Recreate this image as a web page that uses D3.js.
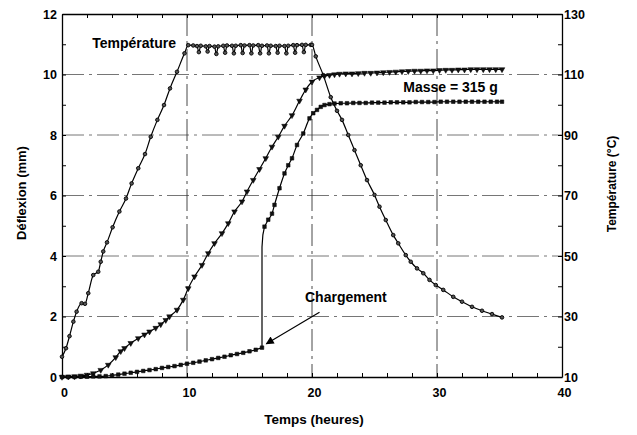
<!DOCTYPE html>
<html><head><meta charset="utf-8">
<script src="https://cdn.jsdelivr.net/npm/d3@7"></script>
<style>
body{margin:0;background:#fff}
svg{display:block}
text{font-family:"Liberation Sans",Arial,Helvetica,sans-serif;font-weight:bold;fill:#000}
</style>
</head><body>
<svg id="c" width="637" height="435"></svg>
<script>
// ---- Data (hours, value) ----
// Temperature (°C, right axis)
const temperature = [
[0,16.7],[0.32,19.5],[0.6,23.5],[0.91,28.3],[1.17,31.6],[1.57,34.4],[1.84,34.2],[2.1,37.7],[2.5,43.7],[2.9,44.8],[3.1,48.1],[3.3,51.5],[3.6,54.5],[4.05,59.5],[4.59,64.7],[5.12,69],[5.57,74],[6.1,79],[6.64,83.7],[7.1,89.4],[7.63,95],[8.16,99.9],[8.64,105.4],[9.2,110.9],[9.8,117],[10.1,119.7],
[10.5,119.6],[10.8,119.4],[10.95,117.4],[11.1,119.5],[11.5,119.3],[11.65,117.6],[11.8,119.4],[12.2,119.2],[12.35,116.8],[12.5,119.3],[12.9,119.5],[13.05,117.2],[13.2,119.6],[13.6,119.5],[13.75,117.0],[13.9,119.5],[14.3,119.7],[14.45,117.1],[14.6,119.6],[15.0,119.7],[15.15,117.0],[15.3,119.6],[15.7,119.7],[15.85,117.0],[16.0,119.5],[16.4,119.6],[16.55,117.0],[16.7,119.5],[17.1,119.4],[17.25,117.2],[17.4,119.5],[17.8,119.4],[17.95,117.0],[18.1,119.5],[18.5,119.7],[18.65,117.2],[18.8,119.7],[19.2,119.8],[19.35,117.4],[19.5,119.8],[19.9,119.8],
[20.0,119.8],[20.3,116],[20.9,109.8],[21.5,102.5],[22.0,98],[22.4,95],[22.9,90],[23.4,85],[23.9,80],[24.4,75.1],[25.0,70.2],[25.4,66.3],[25.9,61.9],[26.5,56.9],[26.9,54.2],[27.5,50.3],[27.9,48.1],[28.4,45.9],[28.9,44.3],[29.4,42.1],[29.9,40.4],[30.5,38.8],[31.3,36.5],[32.0,34.9],[32.8,33.2],[33.6,31.9],[34.4,30.8],[35.2,29.7]
];
// Deflection without load (mm, left axis) - inverted triangles
const deflexion = [
[0,0],[0.5,0.01],[1,0.02],[1.5,0.04],[2,0.07],[2.5,0.12],[3.1,0.23],[3.7,0.4],[4.3,0.65],[4.7,0.85],[5.0,0.95],[5.5,1.12],[6.1,1.28],[6.6,1.4],[7.0,1.5],[7.5,1.62],[7.9,1.74],[8.3,1.88],[8.6,2.0],[9.2,2.22],[9.7,2.55],[10.1,2.93],[10.6,3.32],[11.2,3.7],[11.7,4.09],[12.2,4.42],[12.8,4.75],[13.3,5.08],[13.8,5.47],[14.4,5.8],[14.8,6.13],[15.3,6.51],[15.8,6.87],[16.3,7.23],[16.8,7.61],[17.3,7.94],[17.8,8.3],[18.4,8.65],[19.0,9.13],[19.5,9.5],[20.0,9.76],[20.6,9.9],[21.0,9.95],[21.4,9.98],[21.8,10.0],[22.2,10.02],[22.7,10.03],[23.2,10.03],[23.7,10.04],[24.2,10.05],[24.7,10.05],[25.2,10.06],[25.7,10.07],[26.2,10.08],[26.7,10.09],[27.2,10.1],[27.7,10.11],[28.2,10.12],[28.7,10.12],[29.2,10.13],[29.7,10.13],[30.2,10.14],[30.7,10.15],[31.2,10.15],[31.7,10.16],[32.2,10.16],[32.7,10.17],[33.2,10.17],[33.7,10.17],[34.2,10.17],[34.7,10.17],[35.2,10.17]
];
// Deflection with load "Chargement" (mm, left axis) - squares
const chargementBefore = [
[0,0],[0.5,0],[1,0],[1.5,0.01],[2,0.01],[2.5,0.02],[3,0.02],[3.5,0.03],[4,0.05],[4.5,0.08],[5,0.11],[5.5,0.14],[6,0.17],[6.5,0.2],[7,0.23],[7.5,0.26],[8,0.3],[8.5,0.33],[9,0.36],[9.5,0.4],[10,0.44],[10.5,0.47],[11,0.51],[11.5,0.55],[12,0.59],[12.5,0.63],[13,0.67],[13.5,0.72],[14,0.76],[14.5,0.8],[15,0.85],[15.5,0.9],[16,0.97]
];
// instantaneous jump when the 315 g load is applied (line only)
const chargementJump = [[16,0.97],[16,4.3],[16.07,4.7],[16.2,4.97]];
const chargementAfter = [
[16.2,4.97],[16.5,5.2],[16.8,5.4],[17.0,5.69],[17.4,6.24],[17.8,6.73],[18.1,7.0],[18.4,7.23],[18.8,7.67],[19.3,8.05],[19.8,8.55],[20.1,8.72],[20.4,8.83],[20.7,8.93],[21.0,8.99],[21.4,9.02],[21.8,9.04],[22.3,9.05],[22.8,9.05],[23.3,9.06],[23.8,9.06],[24.3,9.06],[24.8,9.07],[25.3,9.07],[25.8,9.07],[26.3,9.08],[26.8,9.08],[27.3,9.08],[27.8,9.08],[28.3,9.09],[28.8,9.09],[29.3,9.09],[29.8,9.09],[30.3,9.1],[30.8,9.1],[31.3,9.1],[31.8,9.1],[32.3,9.1],[32.8,9.1],[33.3,9.1],[33.8,9.1],[34.3,9.1],[34.8,9.1],[35.2,9.1]
];
const xTickLabels = [0,10,20,30,40];
const leftTickLabels = [0,2,4,6,8,10,12];
const rightTickLabels = [10,30,50,70,90,110,130];
const xGrid = [10,20,30];
const yGrid = [2,4,6,8,10];
const labelTemp = {text:"Température", x:2.42, y:10.89};
const labelMasse = {text:"Masse = 315 g", x:27.3, y:9.43};
const labelCharge = {text:"Chargement", x:19.44, y:2.49};
const arrowCharge = {from:[20.6,2.14], to:[16.35,1.1]};

// ---- Chart ----
const svg = d3.select("#c");
const L=62, R=562, T=14, B=377;
const x = d3.scaleLinear([0,40],[L,R]);
const yL = d3.scaleLinear([0,12],[B,T]);
const yR = d3.scaleLinear([10,130],[B,T]);

// grid
const grid = svg.append("g").attr("stroke","#666").attr("stroke-width",0.9).attr("stroke-dasharray","22,5,3,5").attr("fill","none");
grid.selectAll("line.h").data(yGrid).join("line").attr("class","h")
  .attr("x1",L).attr("x2",R).attr("y1",d=>yL(d)).attr("y2",d=>yL(d));
grid.selectAll("line.v").data(xGrid).join("line").attr("class","v")
  .attr("y1",T).attr("y2",B).attr("x1",d=>x(d)).attr("x2",d=>x(d)).attr("stroke","#333");

function styleAxis(g, fs){
  g.select(".domain").attr("stroke","#000").attr("stroke-width",1.3);
  g.selectAll(".tick line").attr("stroke","#000").attr("stroke-width",1);
  g.selectAll("text").attr("font-size",fs).attr("font-family",'"Liberation Sans",Arial,sans-serif').attr("font-weight","bold").attr("fill","#000");
}
const gx = svg.append("g").attr("transform",`translate(0,${B})`)
  .call(d3.axisBottom(x).tickValues(d3.range(0,41,2)).tickSizeInner(-4).tickSizeOuter(0).tickPadding(11)
    .tickFormat(d=>xTickLabels.includes(d)?d:""));
styleAxis(gx,"12.5px");
gx.selectAll("text").attr("dx",2);
const gt = svg.append("g").attr("transform",`translate(0,${T})`)
  .call(d3.axisTop(x).tickValues(d3.range(0,41,2)).tickSizeInner(-4).tickSizeOuter(0).tickFormat(""));
styleAxis(gt,"12px");
const gl = svg.append("g").attr("transform",`translate(${L},0)`)
  .call(d3.axisLeft(yL).tickValues(d3.range(0,13,1)).tickSizeInner(-4).tickSizeOuter(0).tickPadding(5)
    .tickFormat(d=>leftTickLabels.includes(d)?d:""));
styleAxis(gl,"12.5px");
const gr = svg.append("g").attr("transform",`translate(${R},0)`)
  .call(d3.axisRight(yR).tickValues(d3.range(10,131,10)).tickSizeInner(-4).tickSizeOuter(0).tickPadding(2)
    .tickFormat(d=>rightTickLabels.includes(d)?d:""));
styleAxis(gr,"12.5px");

// axis titles
svg.append("text").attr("x",314).attr("y",424).attr("text-anchor","middle").attr("font-size","13.5px").text("Temps (heures)");
svg.append("text").attr("transform","translate(26,193) rotate(-90)").attr("text-anchor","middle").attr("font-size","13px").text("Déflexion (mm)");
svg.append("text").attr("transform","translate(616,184) rotate(-90)").attr("text-anchor","middle").attr("font-size","12px").text("Température (°C)");

// lines
const lineL = d3.line().x(d=>x(d[0])).y(d=>yL(d[1])).curve(d3.curveMonotoneX);
const lineR = d3.line().x(d=>x(d[0])).y(d=>yR(d[1])).curve(d3.curveMonotoneX);
const linLin = d3.line().x(d=>x(d[0])).y(d=>yL(d[1]));
const series = svg.append("g").attr("fill","none").attr("stroke","#000").attr("stroke-width",1.2);
series.append("path").attr("d",lineR(temperature));
series.append("path").attr("d",lineL(deflexion));
series.append("path").attr("d",lineL(chargementBefore));
series.append("path").attr("d",linLin(chargementJump));
series.append("path").attr("d",lineL(chargementAfter));

// markers
svg.append("g").selectAll("circle").data(temperature).join("circle")
  .attr("cx",d=>x(d[0])).attr("cy",d=>yR(d[1])).attr("r",1.8)
  .attr("fill","#555").attr("stroke","#000").attr("stroke-width",0.9);
const tri = d3.symbol(d3.symbolTriangle,14);
svg.append("g").selectAll("path").data(deflexion).join("path")
  .attr("d",tri).attr("transform",d=>`translate(${x(d[0])},${yL(d[1])}) rotate(180)`)
  .attr("fill","#111").attr("stroke","#000").attr("stroke-width",0.5);
const sq = d3.symbol(d3.symbolSquare,13);
svg.append("g").selectAll("path").data(chargementBefore.concat(chargementAfter)).join("path")
  .attr("d",sq).attr("transform",d=>`translate(${x(d[0])},${yL(d[1])})`)
  .attr("fill","#111").attr("stroke","#000").attr("stroke-width",0.5);

// annotations
[labelTemp,labelMasse,labelCharge].forEach(l=>{
  svg.append("text").attr("x",x(l.x)).attr("y",yL(l.y)).attr("font-size","14px").text(l.text);
});
svg.append("defs").append("marker").attr("id","ah").attr("viewBox","0 0 10 10").attr("refX",9).attr("refY",5)
  .attr("markerWidth",10).attr("markerHeight",8).attr("markerUnits","userSpaceOnUse").attr("orient","auto")
  .append("path").attr("d","M0,0L10,5L0,10Z").attr("fill","#000");
svg.append("line").attr("x1",x(arrowCharge.from[0])).attr("y1",yL(arrowCharge.from[1]))
  .attr("x2",x(arrowCharge.to[0])).attr("y2",yL(arrowCharge.to[1]))
  .attr("stroke","#000").attr("stroke-width",1.2).attr("marker-end","url(#ah)");
</script>
</body></html>
